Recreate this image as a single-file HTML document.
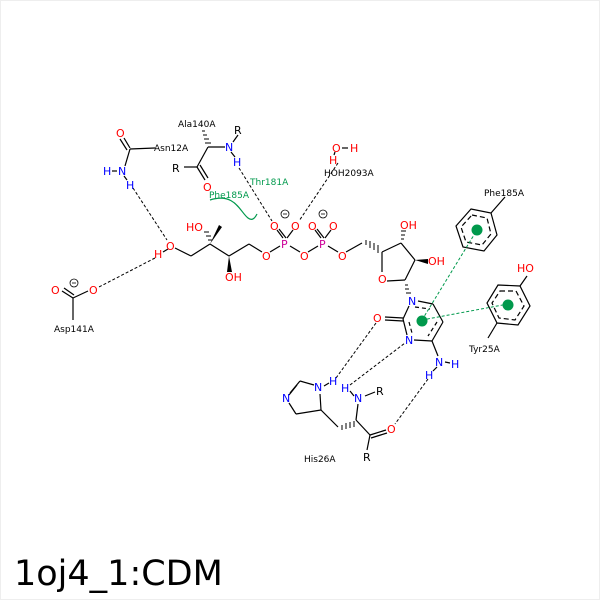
<!DOCTYPE html>
<html><head><meta charset="utf-8"><style>
html,body{margin:0;padding:0;background:#fff}
svg{display:block}
text{font-family:"DejaVu Sans","Liberation Sans",sans-serif}
</style></head><body>
<svg width="600" height="600" viewBox="0 0 600 600" xmlns="http://www.w3.org/2000/svg">
<rect x="0.5" y="0.5" width="599" height="599" fill="#fff" stroke="#eee"/>
<g stroke="#000" stroke-width="1.2" fill="none">
<!-- Asn12A -->
<line x1="124" y1="138" x2="130" y2="148"/><line x1="120" y1="139" x2="127" y2="150"/>
<line x1="130" y1="149" x2="155" y2="148"/>
<line x1="130" y1="149" x2="125" y2="166"/>
<line x1="112" y1="171" x2="117" y2="171"/>
<line x1="124" y1="176" x2="127" y2="180"/>
<!-- Ala140A -->
<line x1="208" y1="147" x2="225" y2="147"/>
<line x1="233" y1="142" x2="238" y2="135"/>
<line x1="231" y1="152" x2="235" y2="157"/>
<line x1="208" y1="147" x2="197" y2="167"/>
<line x1="184" y1="167" x2="197" y2="167"/>
<line x1="197" y1="167" x2="205" y2="180"/><line x1="200" y1="165" x2="208" y2="178"/>
<!-- HOH -->
<line x1="342" y1="148" x2="348" y2="148"/>
<line x1="335" y1="152" x2="334" y2="155"/>
<!-- chain -->
<line x1="168" y1="249" x2="163" y2="252"/>
<line x1="175" y1="248" x2="191" y2="256"/>
<line x1="191" y1="256" x2="210" y2="244"/>
<line x1="210" y1="244" x2="229" y2="256"/>
<line x1="229" y1="256" x2="249" y2="244"/>
<line x1="249" y1="244" x2="262" y2="252"/>
<line x1="270" y1="252" x2="280" y2="246"/>
<line x1="290" y1="246" x2="300" y2="252"/>
<line x1="308" y1="252" x2="318" y2="246"/>
<line x1="328" y1="246" x2="338" y2="252"/>
<line x1="346" y1="252" x2="362" y2="243"/>
<!-- P=O bonds -->
<line x1="283" y1="238" x2="277" y2="230"/><line x1="286" y1="238" x2="279" y2="229"/>
<line x1="287" y1="238" x2="293" y2="230"/>
<line x1="321" y1="238" x2="315" y2="230"/><line x1="324" y1="238" x2="317" y2="229"/>
<line x1="325" y1="238" x2="331" y2="230"/>
<!-- ribose -->
<line x1="401" y1="243" x2="415" y2="260"/>
<line x1="382" y1="252" x2="401" y2="243"/>
<line x1="382" y1="252" x2="382" y2="272"/>
<line x1="387" y1="281" x2="405" y2="280"/>
<line x1="415" y1="260" x2="405" y2="280"/>
<!-- pyrimidine -->
<line x1="409" y1="306" x2="403" y2="319"/>
<line x1="418" y1="301" x2="433" y2="304"/>
<line x1="433" y1="304" x2="443" y2="322"/>
<line x1="443" y1="322" x2="432" y2="341"/>
<line x1="432" y1="341" x2="414" y2="340"/>
<line x1="403" y1="319" x2="407" y2="335"/>
<line x1="385" y1="317" x2="403" y2="318"/><line x1="385" y1="320" x2="403" y2="321"/>
<line x1="432" y1="341" x2="438" y2="356"/>
<line x1="445" y1="362" x2="450" y2="363"/>
<line x1="437" y1="367" x2="433" y2="371"/>
<g stroke-dasharray="4,3"><line x1="415" y1="307" x2="430" y2="309"/><line x1="437" y1="322" x2="428" y2="336"/><line x1="409" y1="322" x2="412" y2="333"/></g>
<!-- Phe185A ring -->
<polygon points="471,209 491,213 497,235 484,251 463,247 456,226"/>
<polygon points="472,215 487,218 491,234 482,245 466,242 461,227" stroke-dasharray="5,3"/>
<line x1="491" y1="213" x2="505" y2="197"/>
<!-- Tyr25A ring -->
<polygon points="498,285 520,286 530,306 518,325 497,323 487,303"/>
<polygon points="500,291 516,291 524,306 515,320 499,318 492,303" stroke-dasharray="5,3"/>
<line x1="520" y1="286" x2="527" y2="276"/>
<line x1="497" y1="323" x2="488" y2="338"/>
<!-- His26A -->
<line x1="314" y1="385" x2="300" y2="381"/>
<line x1="324" y1="386" x2="329" y2="383"/>
<line x1="300" y1="381" x2="290" y2="393"/><line x1="297" y1="385" x2="289" y2="395"/>
<line x1="289" y1="403" x2="296" y2="414"/>
<line x1="296" y1="414" x2="321" y2="410"/>
<line x1="321" y1="410" x2="320" y2="394"/>
<line x1="321" y1="410" x2="338" y2="427"/>
<line x1="356" y1="420" x2="358" y2="404"/>
<line x1="354" y1="396" x2="350" y2="391"/>
<line x1="365" y1="396" x2="375" y2="392"/>
<line x1="356" y1="420" x2="370" y2="435"/>
<line x1="370" y1="435" x2="386" y2="430"/><line x1="371" y1="438" x2="387" y2="433"/>
<line x1="370" y1="435" x2="367" y2="450"/>
<!-- Asp141A -->
<line x1="62" y1="291" x2="73" y2="298"/><line x1="64" y1="288" x2="74" y2="295"/>
<line x1="73" y1="298" x2="88" y2="291"/>
<line x1="73" y1="298" x2="73" y2="320"/>
</g>
<!-- wedges / hashes -->
<g fill="#000">
<polygon points="210,244 219,225 222,227"/>
<polygon points="229,256 227,272 232,272"/>
<polygon points="415,260 428,259 428,264"/>
</g>
<g stroke="#000" stroke-width="1">
<line x1="205" y1="143" x2="211" y2="143"/><line x1="204" y1="139" x2="209" y2="139"/><line x1="203" y1="135" x2="207" y2="135"/><line x1="202" y1="131" x2="205" y2="131"/>
<line x1="208" y1="240" x2="212" y2="240"/><line x1="206" y1="236" x2="211" y2="236"/><line x1="204" y1="232" x2="209" y2="232"/>
<line x1="366" y1="240" x2="366" y2="245"/><line x1="370" y1="241" x2="370" y2="248"/><line x1="374" y1="243" x2="374" y2="250"/><line x1="378" y1="245" x2="378" y2="253"/>
<line x1="401" y1="239" x2="404" y2="239"/><line x1="401" y1="235" x2="405" y2="235"/><line x1="401" y1="231" x2="406" y2="231"/>
<line x1="405" y1="285" x2="408" y2="285"/><line x1="405" y1="289" x2="409" y2="289"/><line x1="406" y1="293" x2="411" y2="293"/>
<line x1="342" y1="425" x2="342" y2="430"/><line x1="346" y1="423" x2="346" y2="429"/><line x1="350" y1="422" x2="350" y2="428"/><line x1="354" y1="421" x2="354" y2="427"/>
</g>
<!-- H-bond dashes -->
<g stroke="#000" stroke-width="1" stroke-dasharray="3,2" fill="none">
<line x1="133" y1="188" x2="167" y2="240"/>
<line x1="155" y1="258" x2="99" y2="287"/>
<line x1="239" y1="168" x2="272" y2="221"/>
<line x1="338" y1="163" x2="299" y2="221"/>
<line x1="336" y1="378" x2="376" y2="323"/>
<line x1="350" y1="385" x2="405" y2="343"/>
<line x1="428" y1="379" x2="395" y2="424"/>
</g>
<!-- pi stacking -->
<g stroke="#00994c" stroke-width="1" stroke-dasharray="3,2">
<line x1="422" y1="320" x2="477" y2="230"/>
<line x1="422" y1="320" x2="508" y2="304"/>
</g>
<g fill="#00994c"><circle cx="422" cy="321" r="5.5"/><circle cx="477" cy="230" r="5.5"/><circle cx="508" cy="305" r="5.5"/></g>
<path d="M210,200 C235,192 240,212 248,218 C253,222 256,216 257,214" stroke="#00994c" stroke-width="1.2" fill="none"/>
<!-- text -->
<g font-size="11">
<g fill="#ff0000">
<text x="116" y="137">O</text>
<text x="166" y="250">O</text>
<text x="186" y="231">HO</text>
<text x="225" y="281">OH</text>
<text x="262" y="260">O</text>
<text x="270" y="230">O</text><text x="291" y="230">O</text>
<text x="300" y="260">O</text>
<text x="308" y="230">O</text><text x="329" y="230">O</text>
<text x="338" y="260">O</text>
<text x="400" y="229">OH</text>
<text x="428" y="265">OH</text>
<text x="378" y="283">O</text>
<text x="373" y="322">O</text>
<text x="387" y="433">O</text>
<text x="203" y="191">O</text>
<text x="332" y="152">O</text><text x="350" y="152">H</text><text x="329" y="164">H</text>
<text x="154" y="258">H</text>
<text x="51" y="294">O</text><text x="89" y="294">O</text>
<text x="517" y="272">HO</text>
</g>
<g fill="#0000ff">
<text x="103" y="175">H</text><text x="118" y="175">N</text><text x="126" y="189">H</text>
<text x="225" y="151">N</text><text x="233" y="166">H</text>
<text x="408" y="305">N</text>
<text x="405" y="344">N</text>
<text x="435" y="366">N</text><text x="451" y="368">H</text><text x="425" y="379">H</text>
<text x="314" y="391">N</text><text x="329" y="385">H</text>
<text x="282" y="402">N</text>
<text x="354" y="402">N</text><text x="341" y="392">H</text>
</g>
<g fill="#cc0099">
<text x="281" y="248">P</text><text x="319" y="248">P</text>
</g>
<g fill="#000">
<text x="234" y="134">R</text><text x="172" y="172">R</text>
<text x="376" y="395">R</text><text x="363" y="461">R</text>
</g>
</g>
<g font-size="9" fill="#000">
<text x="154" y="151">Asn12A</text>
<text x="178" y="127">Ala140A</text>
<text x="324" y="176">HOH2093A</text>
<text x="484" y="196">Phe185A</text>
<text x="469" y="352">Tyr25A</text>
<text x="304" y="462">His26A</text>
<text x="54" y="332">Asp141A</text>
</g>
<g font-size="9" fill="#00994c">
<text x="250" y="185">Thr181A</text>
<text x="209" y="198">Phe185A</text>
</g>
<!-- charges -->
<g stroke="#000" fill="none" stroke-width="0.8">
<circle cx="285" cy="214" r="4"/><line x1="283" y1="214" x2="287" y2="214"/>
<circle cx="323" cy="214" r="4"/><line x1="321" y1="214" x2="325" y2="214"/>
<circle cx="74" cy="283" r="4"/><line x1="72" y1="283" x2="76" y2="283"/>
</g>
<text x="14" y="585" font-size="35" fill="#000">1oj4_1:CDM</text>
</svg>
</body></html>
